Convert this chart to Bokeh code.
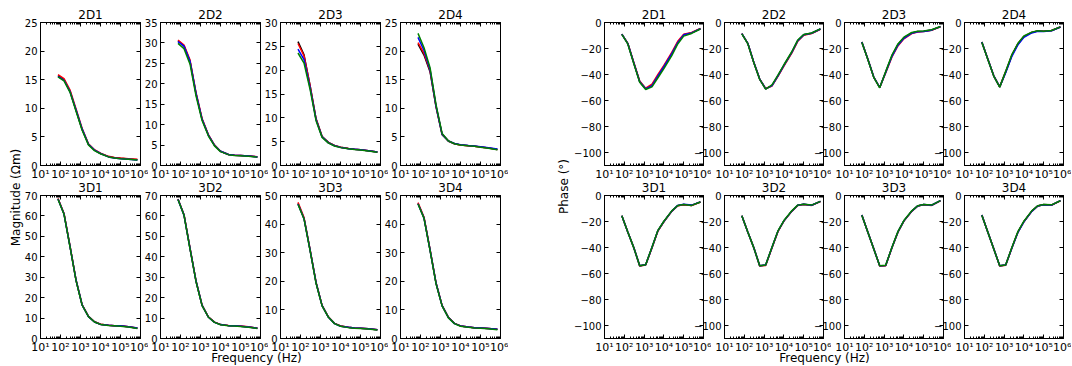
import math
from bokeh.plotting import figure
from bokeh.models import Range1d, FixedTicker, LogAxis, LinearAxis, CustomJSTickFormatter, Label
from bokeh.layouts import row, column
from bokeh.embed import file_html
from bokeh.resources import INLINE
from bokeh.core.validation import silence
from bokeh.core.validation.warnings import MISSING_RENDERERS

silence(MISSING_RENDERERS, True)

# ---------------- data ----------------
freq = [75, 150, 300, 600, 1200, 2500, 5000, 10000, 25000, 50000, 100000, 250000, 700000]
series_colors = ["#000000", "#ff0000", "#0000ff", "#008000"]
panel_titles = ["2D1", "2D2", "2D3", "2D4", "3D1", "3D2", "3D3", "3D4"]
mag_ymax = [25, 35, 30, 25, 70, 70, 50, 50]
mag_tick_step = [5, 5, 5, 5, 10, 10, 10, 10]
phase_ticks = [-100, -80, -60, -40, -20, 0]
x_major = [10, 100, 1000, 10000, 100000, 1000000]

mag_2D1 = [
    [15.7, 15.0, 13.0, 9.6, 6.3, 3.7, 2.7, 2.1, 1.55, 1.35, 1.25, 1.15, 1.0],
    [15.9, 15.2, 13.2, 9.9, 6.5, 3.8, 2.75, 2.15, 1.6, 1.4, 1.3, 1.2, 1.1],
    [15.6, 14.9, 12.9, 9.7, 6.4, 3.7, 2.7, 2.1, 1.5, 1.3, 1.2, 1.1, 0.95],
    [15.5, 14.8, 12.8, 9.5, 6.2, 3.6, 2.6, 2.05, 1.5, 1.3, 1.2, 1.1, 0.95],
]
mag_2D2 = [
    [30.5, 29.3, 25.5, 17.5, 11.3, 7.4, 5.0, 3.5, 2.7, 2.5, 2.45, 2.3, 2.1],
    [30.7, 29.5, 25.8, 17.8, 11.5, 7.5, 5.0, 3.5, 2.7, 2.5, 2.45, 2.35, 2.15],
    [30.3, 29.2, 25.5, 17.6, 11.3, 7.4, 4.9, 3.5, 2.7, 2.5, 2.45, 2.3, 2.1],
    [29.9, 28.6, 24.8, 17.0, 11.0, 7.2, 4.8, 3.4, 2.65, 2.45, 2.4, 2.25, 2.05],
]
mag_2D3 = [
    [26.0, 23.2, 16.8, 9.8, 6.1, 4.85, 4.2, 3.85, 3.55, 3.4, 3.3, 3.1, 2.85],
    [25.6, 23.0, 16.8, 9.8, 6.1, 4.8, 4.2, 3.85, 3.55, 3.4, 3.3, 3.1, 2.85],
    [24.4, 22.2, 16.4, 9.6, 6.0, 4.75, 4.15, 3.8, 3.5, 3.4, 3.3, 3.1, 2.85],
    [23.6, 21.5, 16.0, 9.4, 5.9, 4.7, 4.1, 3.75, 3.5, 3.35, 3.25, 3.05, 2.8],
]
mag_2D4 = [
    [21.2, 19.3, 16.4, 10.2, 5.4, 4.25, 3.8, 3.6, 3.45, 3.35, 3.25, 3.05, 2.8],
    [21.5, 19.6, 16.6, 10.3, 5.5, 4.3, 3.8, 3.6, 3.45, 3.35, 3.25, 3.05, 2.8],
    [22.4, 20.1, 16.8, 10.4, 5.5, 4.3, 3.85, 3.65, 3.5, 3.4, 3.3, 3.1, 2.9],
    [23.1, 20.6, 17.1, 10.6, 5.6, 4.3, 3.8, 3.6, 3.45, 3.35, 3.2, 3.0, 2.75],
]
mag_3D1 = [
    [68.4, 61.0, 45.0, 28.5, 16.5, 10.8, 8.2, 7.0, 6.5, 6.3, 6.1, 5.7, 5.0],
    [68.5, 61.2, 45.2, 28.6, 16.6, 10.8, 8.2, 7.0, 6.5, 6.3, 6.2, 5.8, 5.1],
    [68.3, 60.9, 45.0, 28.5, 16.5, 10.7, 8.1, 6.9, 6.5, 6.3, 6.2, 5.8, 5.1],
    [68.2, 60.8, 44.8, 28.3, 16.4, 10.7, 8.1, 6.9, 6.4, 6.2, 6.0, 5.6, 4.9],
]
mag_3D2 = [
    [68.2, 60.5, 44.0, 28.0, 16.2, 10.5, 8.0, 6.8, 6.3, 6.2, 6.0, 5.6, 5.0],
    [68.3, 60.6, 44.2, 28.1, 16.3, 10.5, 8.0, 6.9, 6.4, 6.2, 6.1, 5.7, 5.1],
    [68.1, 60.4, 44.0, 28.0, 16.2, 10.4, 7.9, 6.8, 6.3, 6.2, 6.0, 5.6, 5.0],
    [68.0, 60.3, 43.8, 27.8, 16.1, 10.4, 7.9, 6.7, 6.3, 6.1, 5.9, 5.5, 4.9],
]
mag_3D3 = [
    [47.2, 42.0, 31.0, 19.5, 11.5, 7.5, 5.3, 4.4, 3.9, 3.7, 3.6, 3.4, 3.1],
    [47.6, 42.3, 31.2, 19.6, 11.6, 7.5, 5.3, 4.4, 3.9, 3.7, 3.6, 3.4, 3.1],
    [47.0, 41.9, 31.0, 19.5, 11.5, 7.4, 5.2, 4.3, 3.9, 3.7, 3.6, 3.4, 3.1],
    [46.9, 41.8, 30.8, 19.3, 11.4, 7.4, 5.2, 4.3, 3.8, 3.6, 3.5, 3.3, 3.0],
]
mag_3D4 = [
    [47.2, 42.2, 31.0, 19.3, 11.5, 7.3, 5.3, 4.4, 4.0, 3.8, 3.7, 3.5, 3.2],
    [47.5, 42.4, 31.2, 19.4, 11.6, 7.4, 5.3, 4.4, 4.0, 3.8, 3.7, 3.5, 3.2],
    [47.1, 42.1, 31.0, 19.3, 11.5, 7.3, 5.2, 4.4, 4.0, 3.8, 3.7, 3.5, 3.2],
    [47.0, 42.0, 30.8, 19.1, 11.4, 7.2, 5.2, 4.3, 3.9, 3.7, 3.6, 3.4, 3.1],
]

ph_2D1 = [
    [-9.0, -16.0, -31.0, -45.5, -51.0, -48.5, -41.0, -34.0, -24.0, -15.5, -9.5, -8.0, -4.7],
    [-9.0, -16.0, -30.5, -45.0, -50.5, -47.5, -40.0, -33.0, -23.0, -14.5, -9.0, -7.6, -4.6],
    [-9.0, -16.2, -31.0, -45.5, -51.0, -48.5, -41.0, -34.0, -24.0, -15.5, -9.5, -8.0, -4.8],
    [-9.2, -16.5, -31.5, -46.0, -51.5, -49.5, -42.5, -35.5, -25.5, -16.5, -10.5, -8.4, -5.0],
]
ph_2D2 = [
    [-8.5, -16.0, -30.5, -43.5, -51.0, -48.5, -41.0, -33.0, -23.0, -14.0, -9.5, -8.3, -5.0],
    [-8.5, -16.0, -30.5, -43.5, -50.8, -48.8, -41.5, -33.5, -23.5, -14.5, -9.8, -8.5, -5.2],
    [-8.5, -16.0, -30.5, -43.5, -51.0, -48.5, -41.0, -33.0, -23.0, -14.0, -9.5, -8.3, -5.0],
    [-8.7, -16.3, -30.8, -43.8, -51.2, -48.0, -40.5, -32.5, -22.5, -13.5, -9.2, -8.1, -4.9],
]
ph_2D3 = [
    [-15.0, -28.0, -42.0, -50.0, -38.0, -25.5, -17.0, -11.8, -8.0, -7.0, -6.8, -5.8, -3.2],
    [-15.0, -28.0, -42.0, -50.0, -38.8, -26.5, -18.0, -12.5, -8.5, -7.3, -7.0, -6.0, -3.3],
    [-15.0, -28.0, -42.0, -50.0, -38.5, -26.0, -17.5, -12.2, -8.2, -7.1, -6.9, -5.9, -3.2],
    [-15.2, -28.2, -42.2, -50.2, -37.8, -25.0, -16.5, -11.3, -7.7, -6.8, -6.6, -5.6, -3.1],
]
ph_2D4 = [
    [-15.0, -28.0, -41.0, -49.5, -38.0, -25.0, -16.5, -10.8, -7.6, -6.5, -6.8, -6.2, -3.5],
    [-15.0, -28.0, -41.0, -49.5, -38.0, -25.0, -16.5, -10.8, -7.6, -6.5, -6.8, -6.2, -3.5],
    [-15.0, -28.0, -41.0, -49.5, -38.6, -25.8, -17.2, -11.4, -8.0, -6.8, -7.0, -6.3, -3.5],
    [-15.2, -28.2, -41.2, -49.7, -37.6, -24.5, -16.0, -10.4, -7.4, -6.4, -6.7, -6.1, -3.4],
]
ph_3D1 = [
    [-15.5, -28.0, -40.0, -54.0, -53.3, -40.0, -27.0, -20.0, -12.0, -7.8, -7.0, -7.6, -5.0],
    [-15.5, -28.0, -40.0, -54.2, -53.5, -40.3, -27.3, -20.2, -12.2, -7.9, -7.1, -7.7, -5.0],
    [-15.5, -28.0, -40.0, -54.0, -53.3, -40.0, -27.0, -20.0, -12.0, -7.6, -6.8, -7.4, -4.9],
    [-15.6, -28.1, -40.1, -54.0, -53.2, -39.8, -26.8, -19.8, -11.8, -7.7, -7.0, -7.6, -5.0],
]
ph_3D2 = [
    [-15.5, -28.0, -40.0, -54.0, -53.5, -40.0, -27.5, -19.5, -12.0, -7.5, -6.8, -7.5, -4.5],
    [-15.5, -28.0, -40.0, -54.2, -53.8, -40.3, -27.8, -19.7, -12.2, -7.7, -7.0, -7.6, -4.6],
    [-15.5, -28.0, -40.0, -54.0, -53.5, -40.0, -27.5, -19.5, -12.0, -7.5, -6.8, -7.5, -4.5],
    [-15.6, -28.1, -40.1, -54.0, -53.4, -39.8, -27.3, -19.3, -11.8, -7.4, -6.7, -7.4, -4.5],
]
ph_3D3 = [
    [-15.0, -28.0, -41.0, -54.0, -53.8, -40.0, -28.0, -19.5, -12.0, -8.0, -7.0, -7.5, -4.0],
    [-15.0, -28.0, -41.0, -54.2, -54.0, -40.2, -28.2, -19.7, -12.2, -8.1, -7.1, -7.6, -4.1],
    [-15.0, -28.0, -41.0, -54.0, -53.8, -40.0, -28.0, -19.5, -12.0, -8.0, -7.0, -7.5, -4.0],
    [-15.1, -28.1, -41.1, -54.0, -53.7, -39.8, -27.8, -19.3, -11.8, -7.9, -6.9, -7.4, -4.0],
]
ph_3D4 = [
    [-15.0, -28.0, -41.0, -54.0, -53.5, -40.0, -28.0, -20.0, -12.0, -8.0, -7.0, -7.3, -4.0],
    [-15.0, -28.0, -41.0, -54.2, -53.7, -40.2, -28.2, -20.2, -12.2, -8.1, -7.1, -7.4, -4.1],
    [-15.0, -28.0, -41.0, -54.0, -53.5, -40.2, -28.3, -20.3, -12.2, -8.1, -7.1, -7.4, -4.0],
    [-15.1, -28.1, -41.1, -54.0, -53.4, -39.8, -27.8, -19.8, -11.8, -7.9, -6.9, -7.2, -4.0],
]

mag_data = [mag_2D1, mag_2D2, mag_2D3, mag_2D4, mag_3D1, mag_3D2, mag_3D3, mag_3D4]
phase_data = [ph_2D1, ph_2D2, ph_2D3, ph_2D4, ph_3D1, ph_3D2, ph_3D3, ph_3D4]

# ---------------- style / layout ----------------
FONT = "DejaVu Sans"
LB, RB, TB, BB = 32, 8, 20, 18
FW, FH = 100, 143
PW, PH = LB + FW + RB, TB + FH + BB
STEP = 120

X_FMT = ("const s = ['\u2070','\u00b9','\u00b2','\u00b3','\u2074','\u2075','\u2076'];"
         "const e = Math.round(Math.log10(tick)); return '10' + s[e];")
Y_FMT = "return tick < 0 ? '\u2212' + (-tick) : '' + tick;"
EMPTY_FMT = "return '';"


def x_ticker():
    minors = [k * 10 ** e for e in range(1, 6) for k in range(2, 10)]
    return FixedTicker(ticks=x_major, minor_ticks=minors)


def style_axis(ax, show, standoff=3, size="10px"):
    ax.axis_line_color = "black"
    ax.axis_line_width = 1
    ax.major_tick_line_color = "black"
    ax.minor_tick_line_color = "black"
    ax.major_tick_in = 4
    ax.major_tick_out = 0
    ax.minor_tick_in = 2
    ax.minor_tick_out = 0
    ax.major_label_text_font = FONT
    ax.major_label_text_color = "black"
    if show:
        ax.major_label_standoff = standoff
        ax.major_label_text_font_size = size
    else:
        ax.major_label_standoff = 0
        ax.major_label_text_font_size = "0px"
        ax.formatter = CustomJSTickFormatter(code=EMPTY_FMT)


def panel(title, data, ymin, ymax, yticks):
    p = figure(width=PW, height=PH, x_axis_type="log", x_range=Range1d(10, 1e6),
               y_range=Range1d(ymin, ymax), toolbar_location=None, output_backend="svg",
               min_border_left=LB, min_border_right=RB, min_border_top=TB,
               min_border_bottom=BB, title=title)
    p.border_fill_color = None
    p.background_fill_color = "white"
    p.outline_line_color = "black"
    p.grid.visible = False
    p.title.text_font = FONT
    p.title.text_font_size = "12px"
    p.title.text_font_style = "normal"
    p.title.text_color = "black"
    p.title.align = "center"
    p.title.standoff = 1
    for s, c in zip(data, series_colors):
        p.line(freq, s, line_color=c, line_width=1.5)
    xa = p.xaxis[0]
    xa.ticker = x_ticker()
    xa.formatter = CustomJSTickFormatter(code=X_FMT)
    style_axis(xa, True, standoff=2, size="11px")
    ya = p.yaxis[0]
    ya.ticker = FixedTicker(ticks=yticks, minor_ticks=[])
    ya.formatter = CustomJSTickFormatter(code=Y_FMT)
    style_axis(ya, True, standoff=3, size="10px")
    top = LogAxis(ticker=x_ticker())
    style_axis(top, False)
    p.add_layout(top, "above")
    right = LinearAxis(ticker=FixedTicker(ticks=yticks, minor_ticks=[]))
    style_axis(right, False)
    p.add_layout(right, "right")
    return p


def label_fig(width, height, xr, yr, text, x, y, angle, size="12px"):
    f = figure(width=width, height=height, x_range=Range1d(*xr), y_range=Range1d(*yr),
               toolbar_location=None, output_backend="svg", min_border=0,
               x_axis_location=None, y_axis_location=None)
    f.grid.visible = False
    f.outline_line_color = None
    f.background_fill_color = None
    f.border_fill_color = None
    f.add_layout(Label(x=x, y=y, text=text, angle=angle, text_align="center",
                       text_baseline="middle", text_font=FONT, text_font_size=size,
                       text_color="black"))
    return f


def panel_row(figs, top_margin):
    for i, f in enumerate(figs):
        if i > 0:
            f.margin = (0, 0, 0, STEP - PW)
    return row(figs, margin=(top_margin, 0, 0, 0))


mag_figs = []
phase_figs = []
for i, t in enumerate(panel_titles):
    step = mag_tick_step[i]
    mag_figs.append(panel(t, mag_data[i], 0, mag_ymax[i],
                          list(range(0, mag_ymax[i] + 1, step))))
    phase_figs.append(panel(t, phase_data[i], -110, 0, phase_ticks))

GW = PW + 3 * STEP  # group width
ROW2_MARGIN = 175 - (2 + PH)

freq_left = label_fig(GW, 16, (8, 8 + GW), (365, 349), "Frequency (Hz)", 256, 357, 0)
freq_left.margin = (-7, 0, -10, 0)
left_group = column(
    panel_row(mag_figs[:4], 0),
    panel_row(mag_figs[4:], ROW2_MARGIN),
    freq_left,
    margin=(0, 0, 0, -16),
)

freq_right = label_fig(GW, 16, (571, 571 + GW), (365, 349), "Frequency (Hz)", 824, 357, 0)
freq_right.margin = (-7, 0, -10, 0)
right_group = column(
    panel_row(phase_figs[:4], 0),
    panel_row(phase_figs[4:], ROW2_MARGIN),
    freq_right,
)

mag_label = label_fig(16, 340, (8, 24), (342, 2), "Magnitude (\u03a9m)", 15, 197, math.pi / 2)
phase_label = label_fig(16, 340, (555, 571), (342, 2), "Phase (\u00b0)", 563, 186, math.pi / 2)
phase_label.margin = (0, 0, 0, 555 - (8 + GW))

# page body has no margin in Bokeh's template: place the root at (8, 2)
root = row(mag_label, left_group, phase_label, right_group, margin=(2, 0, 0, 8))

open("out.html", "w").write(file_html(root, INLINE))
